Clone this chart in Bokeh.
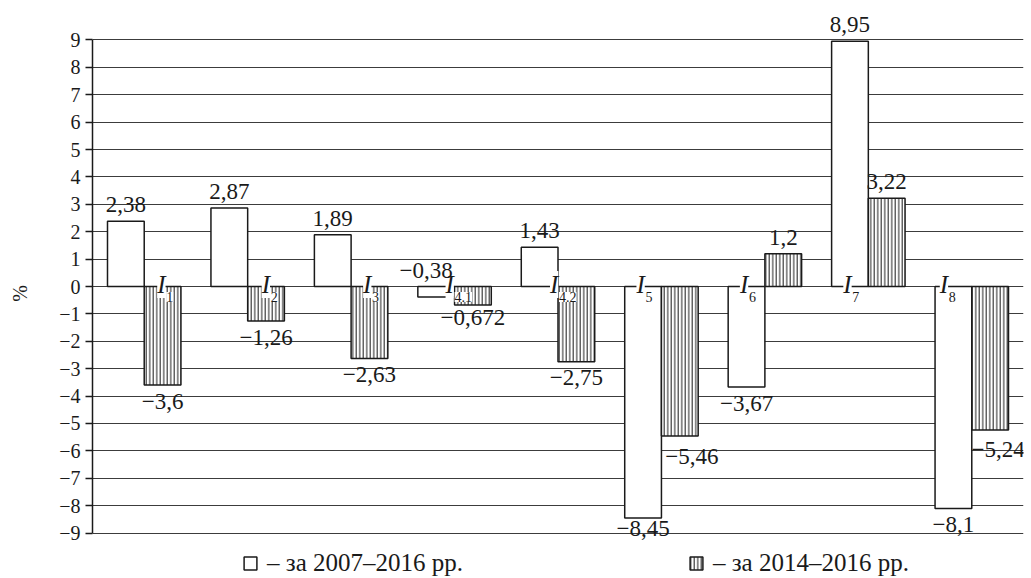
from bokeh.plotting import figure
from bokeh.models import (FactorRange, Range1d, FixedTicker, CustomJSTickFormatter,
                          ColumnDataSource, Legend, LegendItem, LabelSet)
from bokeh.transform import dodge
from bokeh.core.properties import value
from bokeh.embed import file_html
from bokeh.resources import INLINE

# ---------------- data ----------------
categories = ["I1", "I2", "I3", "I4.1", "I4.2", "I5", "I6", "I7", "I8"]
index_letter = ["I"] * 9
index_sub = ["1", "2", "3", "4.1", "4.2", "5", "6", "7", "8"]
s_2007_2016 = [2.38, 2.87, 1.89, -0.38, 1.43, -8.45, -3.67, 8.95, -8.1]
s_2014_2016 = [-3.6, -1.26, -2.63, -0.672, -2.75, -5.46, 1.2, 3.22, -5.24]
series_names = ["\u2013 за 2007\u20132016 рр.", "\u2013 за 2014\u20132016 рр."]
y_ticks = list(range(-9, 10))
y_axis_title = "%"

# ---------------- layout tweaks (screen px) ----------------
label_dx = [13, 14, 12, -9, -8, -25, -25, -25, -32]   # index label shift from group centre
FONT = "Liberation Serif"
INK = "#1a1a1a"
BAR_W = 0.355
OFF = 0.1775
VFS = 23                 # value label font size
DIGIT_H = 15.5


def fmt(v):
    return str(v).replace("-", "\u2212").replace(".", ",")


p = figure(width=1031, height=578, x_range=FactorRange(*categories),
           y_range=Range1d(-10.66, 10.15), output_backend="svg",
           toolbar_location=None, x_axis_location=None,
           min_border_left=92, min_border_right=8, min_border_top=8,
           min_border_bottom=0, outline_line_color=None)

src = ColumnDataSource(dict(cat=categories, a=s_2007_2016, b=s_2014_2016))

r1 = p.vbar(x=dodge("cat", -OFF, range=p.x_range), top="a", width=BAR_W, source=src,
            fill_color="white", line_color=INK, line_width=1.5)
r2 = p.vbar(x=dodge("cat", OFF, range=p.x_range), top="b", width=BAR_W, source=src,
            fill_color="white", line_color=INK, line_width=1.5,
            hatch_pattern="|", hatch_scale=3.5, hatch_color=INK, hatch_weight=1)


# value labels (LabelSet: positive y_offset = up)
def label_source(vals, special_above=(), extra_dx=None, extra_gap=None):
    ys, txt, xo, yo = [], [], [], []
    for i, v in enumerate(vals):
        dx = (extra_dx or {}).get(i, 0)
        gap = (extra_gap or {}).get(i, None)
        if v >= 0 or i in special_above:
            ys.append(max(v, 0))
            yo.append(gap if gap else 9)
        else:
            ys.append(v)
            yo.append(-((gap if gap else 8) + DIGIT_H))
        txt.append(fmt(v))
        xo.append(dx)
    return ColumnDataSource(dict(cat=categories, y=ys, t=txt, xo=xo, yo=yo))


la = label_source(s_2007_2016, special_above=(3,), extra_dx={3: -10}, extra_gap={5: 3})
lb = label_source(s_2014_2016, extra_dx={5: 12, 8: 8}, extra_gap={5: 12, 8: 11, 3: 5})

for srcl, off in ((la, -OFF), (lb, OFF)):
    p.add_layout(LabelSet(x=dodge("cat", off, range=p.x_range), y="y", text="t",
                          source=srcl, x_offset="xo", y_offset="yo",
                          text_align="center", text_baseline="alphabetic",
                          text_font=value(FONT), text_font_size=f"{VFS}px",
                          text_color=INK))

# index labels I with subscript
isrc = ColumnDataSource(dict(cat=categories, y=[0] * 9, main=index_letter, sub=index_sub,
                             dx=label_dx, dx2=[d + 9 for d in label_dx]))
p.text(x="cat", y="y", text="main", source=isrc, x_offset="dx", y_offset=-2,
       text_align="left", text_baseline="alphabetic", text_font=value(FONT),
       text_font_style="italic", text_font_size="25px", text_color=INK,
       background_fill_color="white")
p.text(x="cat", y="y", text="sub", source=isrc, x_offset="dx2", y_offset=10.5,
       text_align="left", text_baseline="alphabetic", text_font=value(FONT),
       text_font_size="14px", text_color=INK, background_fill_color="white")

# axes & grid
p.yaxis.ticker = FixedTicker(ticks=y_ticks)
p.yaxis.bounds = (-9, 9)
p.yaxis.formatter = CustomJSTickFormatter(
    code="return (tick < 0 ? '\\u2212' : '') + Math.abs(tick);")
p.yaxis.major_tick_out = 7
p.yaxis.major_tick_in = 0
p.yaxis.minor_tick_out = 0
p.yaxis.minor_tick_in = 0
p.yaxis.major_label_standoff = 5
p.yaxis.axis_line_width = 1.5
p.yaxis.axis_line_color = INK
p.yaxis.major_tick_line_color = INK
p.yaxis.major_tick_line_width = 1.5
p.yaxis.major_label_text_font = FONT
p.yaxis.major_label_text_font_size = "20px"
p.yaxis.major_label_text_color = INK
p.yaxis.axis_label = y_axis_title
p.yaxis.axis_label_text_font = FONT
p.yaxis.axis_label_text_font_style = "normal"
p.yaxis.axis_label_text_font_size = "20px"
p.yaxis.axis_label_text_color = INK
p.yaxis.axis_label_standoff = 25

p.ygrid.ticker = FixedTicker(ticks=y_ticks)
p.ygrid.grid_line_color = "#3c3c3c"
p.ygrid.grid_line_width = 1.2
p.xgrid.grid_line_color = None

legend = Legend(items=[LegendItem(label=series_names[0], renderers=[r1]),
                       LegendItem(label=series_names[1], renderers=[r2])],
                location=(150, 1), orientation="horizontal", spacing=225,
                glyph_width=16, glyph_height=16, label_standoff=9, padding=0,
                margin=0, border_line_color=None, background_fill_alpha=0,
                label_text_font=FONT, label_text_font_size="25px",
                label_text_color=INK)
p.add_layout(legend, "center")

open("out.html", "w").write(file_html(p, INLINE))
